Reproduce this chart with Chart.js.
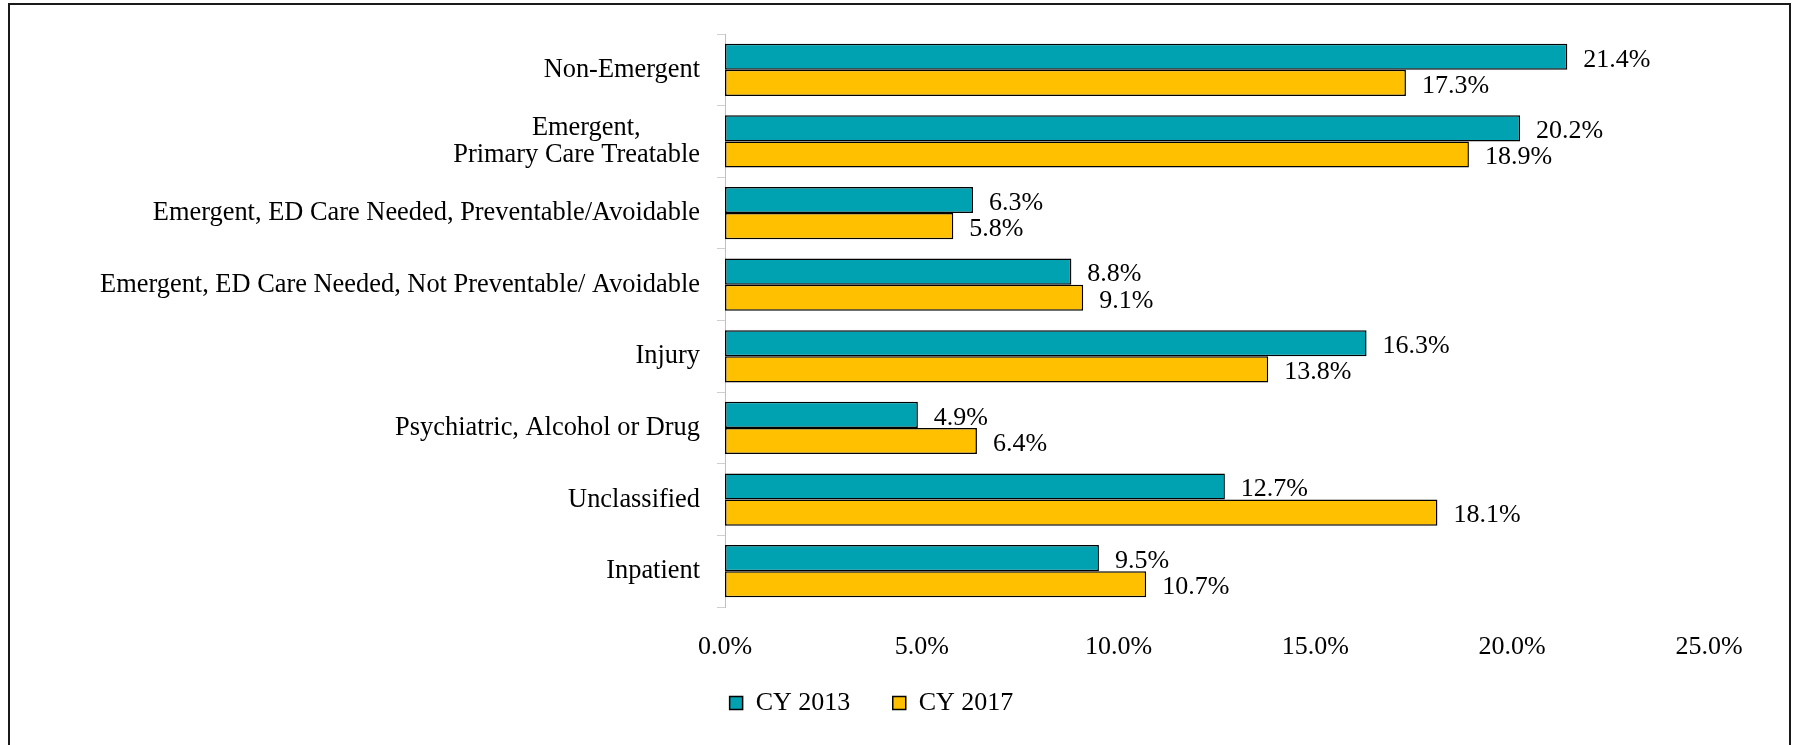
<!DOCTYPE html>
<html lang="en">
<head>
    <meta charset="UTF-8">
    <title>ED Visit Classification</title>
    <script src="https://cdn.jsdelivr.net/npm/chart.js"></script>
    <style>
        body { margin: 0; background: #fff; }
        .frame {
            position: absolute;
            left: 8px; top: 3px;
            width: 1783px; height: 800px;
            box-sizing: border-box;
            border: 2px solid #1a1a1a;
        }
        #chart { position: absolute; left: 0; top: 0; }
    </style>
</head>
<body>
    <div class="frame"></div>
    <canvas id="chart" width="1793" height="745"></canvas>
    <script>
        // categories (first one has padding so the two lines look centred)
        const categories = [
            'Non-Emergent',
            ['Emergent,         ', 'Primary Care Treatable'],
            'Emergent, ED Care Needed, Preventable/Avoidable',
            'Emergent, ED Care Needed, Not Preventable/ Avoidable',
            'Injury',
            'Psychiatric, Alcohol or Drug',
            'Unclassified',
            'Inpatient'
        ];
        const seriesNames = ['CY 2013', 'CY 2017'];
        const cy2013 = [21.4, 20.2, 6.3, 8.8, 16.3, 4.9, 12.7, 9.5];
        const cy2017 = [17.3, 18.9, 5.8, 9.1, 13.8, 6.4, 18.1, 10.7];
        const xTicks = [0, 5, 10, 15, 20, 25];

        const FONT = 'Liberation Serif, Times New Roman, serif';

        // value labels to the right of every bar
        const valueLabels = {
            id: 'valueLabels',
            afterDatasetsDraw(chart) {
                const ctx = chart.ctx;
                ctx.save();
                ctx.font = '26px ' + FONT;
                ctx.fillStyle = '#000';
                ctx.textAlign = 'left';
                ctx.textBaseline = 'middle';
                chart.data.datasets.forEach((ds, i) => {
                    chart.getDatasetMeta(i).data.forEach((bar, j) => {
                        ctx.fillText(ds.data[j].toFixed(1) + '%', bar.x + 16, bar.y + 3);
                    });
                });
                ctx.restore();
            }
        };

        new Chart(document.getElementById('chart'), {
            type: 'bar',
            data: {
                labels: categories,
                datasets: [{
                    label: seriesNames[0],
                    data: cy2013,
                    backgroundColor: '#00A1B0',
                    borderColor: '#000',
                    borderWidth: 1.5,
                    borderSkipped: false,
                    categoryPercentage: 0.73,
                    barPercentage: 1
                }, {
                    label: seriesNames[1],
                    data: cy2017,
                    backgroundColor: '#FFC000',
                    borderColor: '#000',
                    borderWidth: 1.5,
                    borderSkipped: false,
                    categoryPercentage: 0.73,
                    barPercentage: 1
                }]
            },
            options: {
                indexAxis: 'y',
                responsive: false,
                animation: false,
                layout: { padding: { top: 34, right: 84, left: 34, bottom: 19 } },
                scales: {
                    x: {
                        min: 0,
                        max: 25,
                        afterBuildTicks(axis) { axis.ticks = xTicks.map(v => ({ value: v })); },
                        afterFit(axis) { axis.height = 73; },
                        grid: { display: false },
                        border: { display: false },
                        ticks: {
                            padding: 17,
                            color: '#000',
                            font: { family: FONT, size: 26 },
                            callback: v => v.toFixed(1) + '%'
                        }
                    },
                    y: {
                        afterFit(axis) { axis.width = 691; },
                        grid: {
                            drawOnChartArea: false,
                            tickLength: 8,
                            color: '#d0d0d0'
                        },
                        border: { color: '#bfbfbf', dash: [4, 3] },
                        ticks: {
                            padding: 17,
                            color: '#000',
                            font: { family: FONT, size: 26.4, lineHeight: 1.05 }
                        }
                    }
                },
                plugins: {
                    tooltip: { enabled: false },
                    legend: {
                        position: 'bottom',
                        labels: {
                            color: '#000',
                            font: { family: FONT, size: 26 },
                            boxWidth: 13,
                            boxHeight: 13,
                            padding: 10,
                            // extra gap after the first entry, like the original
                            generateLabels(chart) {
                                const items = Chart.defaults.plugins.legend.labels.generateLabels(chart);
                                items.forEach((it, i) => {
                                    it.lineWidth = 1.5;
                                    if (i < items.length - 1) it.text = it.text + '     ';
                                });
                                return items;
                            }
                        }
                    }
                }
            },
            plugins: [valueLabels]
        });
    </script>
</body>
</html>
